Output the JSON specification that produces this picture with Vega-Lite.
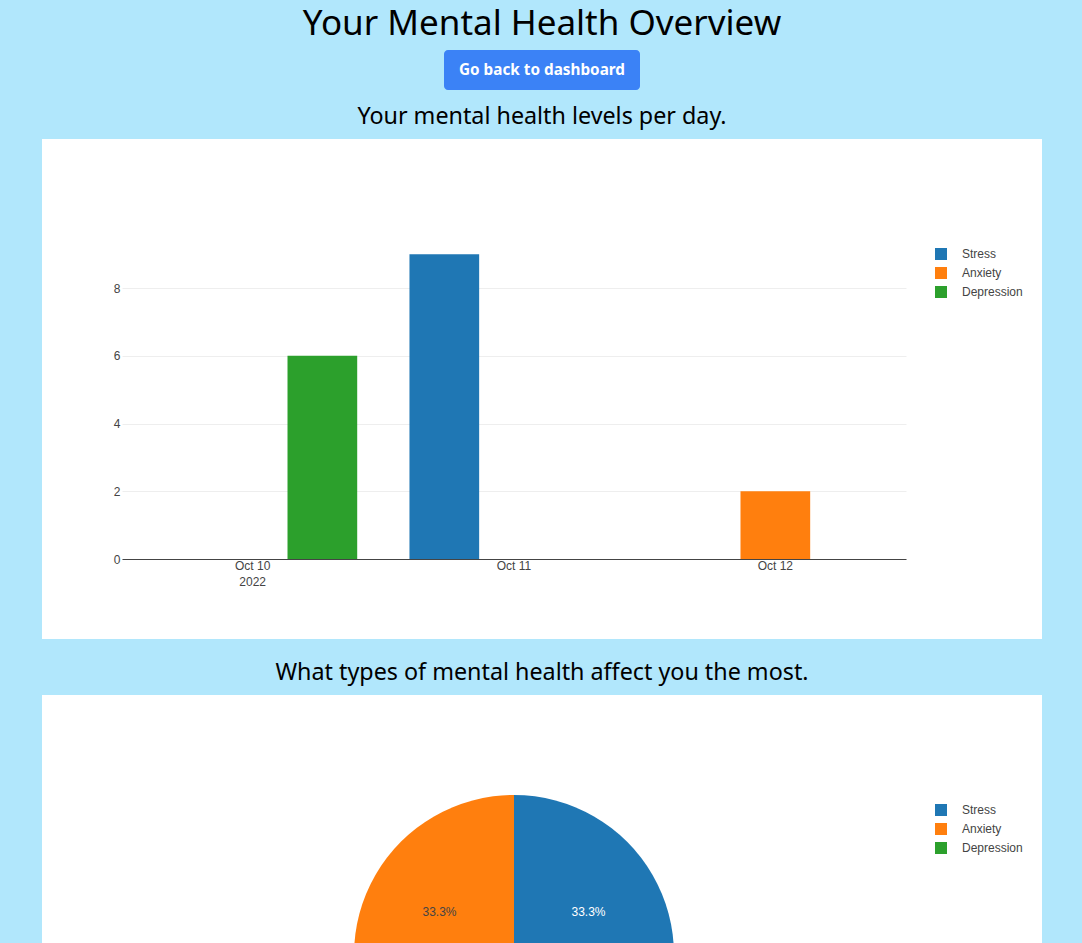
{
  "$schema": "https://vega.github.io/schema/vega-lite/v6.json",
  "padding": {"left": 42, "right": 40, "top": 7, "bottom": 0},
  "autosize": {"type": "pad"},
  "background": "#b1e7fc",
  "title": {
    "text": "Your Mental Health Overview",
    "fontSize": 35,
    "font": "Noto Sans",
    "fontWeight": "normal",
    "color": "#000000",
    "anchor": "middle",
    "offset": 8
  },
  "config": {
    "view": {"stroke": null},
    "title": {"font": "Noto Sans", "fontWeight": "normal", "color": "#000000"}
  },
  "resolve": {"scale": {"color": "independent"}, "legend": {"color": "independent"}},
  "spacing": 14,
  "center": true,
  "vconcat": [
    {
      "width": 196,
      "height": 40,
      "view": {"fill": "#3b82f6", "cornerRadius": 4, "stroke": null},
      "data": {"values": [{"label": "Go back to dashboard"}]},
      "mark": {
        "type": "text",
        "x": 98,
        "y": 20,
        "align": "center",
        "baseline": "middle",
        "font": "Noto Sans",
        "fontWeight": "bold",
        "fontSize": 15.3,
        "color": "#ffffff"
      },
      "encoding": {"text": {"field": "label"}}
    },
    {
      "width": 1000,
      "height": 500,
      "view": {"fill": "#ffffff", "stroke": null},
      "title": {"text": "Your mental health levels per day.", "fontSize": 23.3, "anchor": "middle", "offset": 10},
      "data": {
        "values": [
          {"date": "Oct 10", "type": "Depression", "level": 6},
          {"date": "Oct 11", "type": "Stress", "level": 9},
          {"date": "Oct 12", "type": "Anxiety", "level": 2}
        ]
      },
      "mark": {"type": "bar"},
      "encoding": {
        "x": {
          "field": "date",
          "type": "nominal",
          "sort": ["Oct 10", "Oct 11", "Oct 12"],
          "scale": {"range": [80, 864], "paddingInner": 0.2, "paddingOuter": 0.1},
          "axis": {
            "title": null,
            "offset": -80,
            "domain": true,
            "domainColor": "#444444",
            "domainWidth": 1,
            "ticks": false,
            "grid": false,
            "labelAngle": 0,
            "labelPadding": 1,
            "labelBaseline": "top",
            "labelLineHeight": 16,
            "labelFont": "Liberation Sans",
            "labelFontSize": 12,
            "labelColor": "#444444",
            "labelExpr": "datum.value == 'Oct 10' ? ['Oct 10', '2022'] : datum.value",
            "zindex": 1
          }
        },
        "xOffset": {
          "field": "type",
          "type": "nominal",
          "scale": {"domain": ["Stress", "Anxiety", "Depression"], "paddingInner": 0, "paddingOuter": 0}
        },
        "y": {
          "field": "level",
          "type": "quantitative",
          "scale": {"domain": [0, 9.447], "range": [420, 100], "nice": false, "zero": true},
          "axis": {
            "title": null,
            "offset": -80,
            "values": [0, 2, 4, 6, 8],
            "domain": false,
            "ticks": false,
            "grid": true,
            "gridColor": "#eeeeee",
            "gridWidth": 1,
            "labelPadding": 2,
            "labelFont": "Liberation Sans",
            "labelFontSize": 12,
            "labelColor": "#444444",
            "zindex": 0
          }
        },
        "color": {
          "field": "type",
          "type": "nominal",
          "scale": {"domain": ["Stress", "Anxiety", "Depression"], "range": ["#1f77b4", "#ff7f0e", "#2ca02c"]},
          "legend": {
            "orient": "none",
            "legendX": 893,
            "legendY": 109,
            "title": null,
            "symbolType": "square",
            "symbolSize": 144,
            "symbolStrokeWidth": 0,
            "symbolOpacity": 1,
            "labelFont": "Liberation Sans",
            "labelFontSize": 12,
            "labelColor": "#444444",
            "labelOffset": 15,
            "rowPadding": 7,
            "padding": 0
          }
        }
      }
    },
    {
      "width": 1000,
      "height": 500,
      "view": {"fill": "#ffffff", "stroke": null},
      "title": {"text": ["", "What types of mental health affect you the most."], "lineHeight": 7, "fontSize": 23.3, "anchor": "middle", "offset": 10},
      "data": {
        "values": [
          {"type": "Stress", "count": 1, "order": 1, "pct": "33.3%"},
          {"type": "Depression", "count": 1, "order": 2, "pct": "33.3%"},
          {"type": "Anxiety", "count": 1, "order": 3, "pct": "33.3%"}
        ]
      },
      "encoding": {
        "theta": {"field": "count", "type": "quantitative", "stack": true},
        "order": {"field": "order", "type": "quantitative"}
      },
      "layer": [
        {
          "mark": {"type": "arc", "outerRadius": 160, "x": 472, "y": 260},
          "encoding": {
            "color": {
              "field": "type",
              "type": "nominal",
              "scale": {"domain": ["Stress", "Anxiety", "Depression"], "range": ["#1f77b4", "#ff7f0e", "#2ca02c"]},
              "legend": {
                "orient": "none",
                "legendX": 893,
                "legendY": 109,
                "title": null,
                "symbolType": "square",
                "symbolSize": 144,
                "symbolStrokeWidth": 0,
                "symbolOpacity": 1,
                "labelFont": "Liberation Sans",
                "labelFontSize": 12,
                "labelColor": "#444444",
                "labelOffset": 15,
                "rowPadding": 7,
                "padding": 0
              }
            }
          }
        },
        {
          "mark": {"type": "text", "radius": 86, "x": 472, "y": 260, "align": "center", "baseline": "middle", "font": "Liberation Sans", "fontSize": 12},
          "encoding": {
            "text": {"field": "pct"},
            "detail": {"field": "type"},
            "color": {"condition": {"test": "datum.type === 'Anxiety'", "value": "#444444"}, "value": "#ffffff"}
          }
        }
      ]
    }
  ]
}
